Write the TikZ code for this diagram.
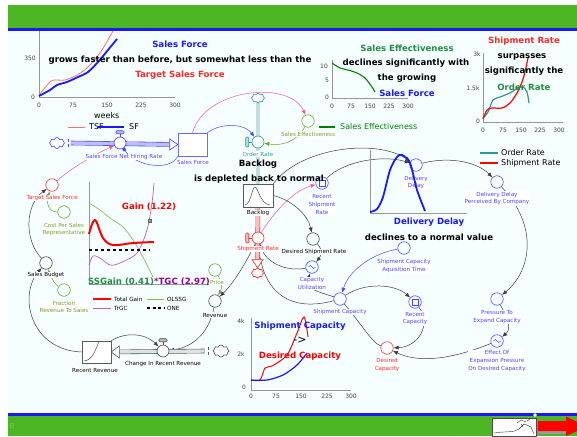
\documentclass[tikz,border=0pt]{standalone}
\usepackage{fontspec}
\setmainfont{DejaVu Sans}
\usetikzlibrary{arrows.meta,shapes.symbols}
\definecolor{bandgreen}{RGB}{76,182,36}
\definecolor{bandblue}{RGB}{24,24,250}
\definecolor{paper}{RGB}{245,255,255}
\definecolor{vblue}{RGB}{70,70,255}
\definecolor{tblue}{RGB}{25,25,255}
\definecolor{vteal}{RGB}{45,150,150}
\definecolor{vred}{RGB}{255,40,40}
\definecolor{vpink}{RGB}{255,80,160}
\definecolor{vgreen}{RGB}{105,160,40}
\definecolor{tgreen}{RGB}{35,140,65}
\definecolor{tpurple}{RGB}{150,0,150}
\definecolor{cpurple}{RGB}{190,90,205}
\definecolor{cgreen}{RGB}{135,190,80}
\definecolor{tsfred}{RGB}{255,110,110}
\definecolor{linkgray}{RGB}{60,60,60}
\definecolor{axisgray}{RGB}{150,150,150}
\definecolor{faint}{RGB}{120,190,95}
\pgfdeclarelayer{back}
\pgfsetlayers{back,main}
\newcommand{\lblsize}{\fontsize{5.6}{7.8}\selectfont}
\newcommand{\ttlsize}{\fontsize{8.6}{10}\selectfont\bfseries}
\newcommand{\ticksize}{\fontsize{6}{7}\selectfont}
\begin{document}
\begin{tikzpicture}[x=1pt,y=-1pt]
\tikzstyle{aux}=[circle,draw,fill=paper,minimum size=12.5pt,inner sep=0pt,line width=0.6pt]
\tikzstyle{lbl}=[font=\lblsize,align=center,fill=white,inner sep=0.5pt]
\tikzstyle{stock}=[rectangle,draw,fill=white,minimum width=29pt,minimum height=23pt,inner sep=0pt,line width=0.6pt]
\tikzstyle{valve}=[circle,draw,fill=white,minimum size=12pt,inner sep=0pt,line width=0.6pt]
\tikzstyle{puff}=[cloud,cloud puffs=8,cloud ignores aspect,draw,fill=white,minimum width=15pt,minimum height=11pt,inner sep=0pt,line width=0.6pt]
\tikzstyle{link}=[draw=linkgray,line width=0.5pt,-{Latex[length=5pt,width=4pt]}]
\tikzstyle{pipe}=[line width=0.6pt,double distance=3.4pt]
\tikzstyle{title}=[font=\ttlsize,inner sep=0pt]
\tikzstyle{tick}=[font=\ticksize,text=black!75,inner sep=0pt]
\tikzstyle{axis}=[draw=axisgray,line width=1pt]
\tikzstyle{legend}=[font=\fontsize{8}{9}\selectfont,anchor=west,inner sep=0pt]
\tikzstyle{glegend}=[font=\fontsize{5.7}{7}\selectfont,anchor=west,inner sep=0pt]
\useasboundingbox (0,0) rectangle (577,436);

% page
\begin{pgfonlayer}{back}
\fill[white] (0,0) rectangle (577,436);
\fill[paper] (8,31) rectangle (577,414);
\fill[bandgreen] (8,5) rectangle (577,28);
\fill[bandblue] (8,28) rectangle (577,31);
\fill[bandblue] (8,413) rectangle (577,416);
\fill[bandgreen] (8,416) rectangle (577,436);
\end{pgfonlayer}
\node[font=\fontsize{9}{9}\selectfont,text=faint] (pg) at (12,426) {e};
\filldraw[fill=white,draw=black!70,line width=0.5pt] (492,418) rectangle (536,436);
\draw[black!80,line width=0.4pt] (494,433) .. controls (505,431) and (514,433) .. (519,429) -- (524,424) -- (531,427) -- (534,434)
  (517,423) -- (521,420) -- (526,422) (521,424) -- (523,427) (527,421) -- (530,419);
\fill[black!40] (538,431) rectangle (566,433.5);
\fill[red] (538,421) -- (566,421) -- (566,416.5) -- (587,426.5) -- (566,436) -- (566,431) -- (538,431) -- cycle;
\filldraw[white] (535,415) circle (1.5);

% stocks
\node[stock,draw=vblue!80] (sf) at (192.5,144.5) {};
\node[stock,draw=black!65,minimum width=30pt] (bl) at (258,195.5) {};
\node[stock,draw=black!65,minimum height=22pt] (rr) at (96.5,352) {};
\draw[black!70,line width=0.5pt] (245,205) .. controls (251,204) and (252,187) .. (255,187) .. controls (258,187) and (260,204) .. (270,205);
\draw[black!70,line width=0.5pt] (84,361) .. controls (92,360) and (95,352) .. (99,341);

% clouds
\node[puff,draw=vblue] (c1) at (57,143) {};
\node[puff,draw=vteal,minimum width=13pt,minimum height=10pt] (c2) at (258,98) {};
\node[puff,draw=vred,minimum width=12pt,minimum height=10pt] (c3) at (257.5,273) {};
\node[puff,draw=black!70,minimum width=16pt,minimum height=12pt] (c4) at (221,351) {};

% valves
\node[valve,draw=vblue] (nhr) at (120,143) {};
\node[valve,draw=vteal] (ordr) at (258,142) {};
\node[valve,draw=vred] (shpr) at (258,238) {};
\node[valve,draw=black!70] (crr) at (163,351) {};
\draw[vblue,line width=0.6pt] (nhr.north) -- ++(0,-3);
\draw[vblue,fill=vblue!35,rounded corners=1pt,line width=0.6pt] ([shift={(-4,-3)}]nhr.north) rectangle ++(8,-3);
\draw[black!70,line width=0.6pt] (crr.north) -- ++(0,-3);
\draw[black!70,fill=black!25,rounded corners=1pt,line width=0.6pt] ([shift={(-4,-3)}]crr.north) rectangle ++(8,-3);
\draw[vteal,line width=0.6pt] (ordr.west) -- ++(-3,0);
\draw[vteal,fill=vteal!30,rounded corners=1pt,line width=0.6pt] ([shift={(-6,-5)}]ordr.west) rectangle ++(3,10);
\draw[vred,line width=0.6pt] (shpr.west) -- ++(-3,0);
\draw[vred,fill=vred!30,rounded corners=1pt,line width=0.6pt] ([shift={(-6,-5)}]shpr.west) rectangle ++(3,10);

% auxiliaries
\node[aux,draw=vgreen] (se) at (308,121) {};
\node[aux,draw=vblue] (rsr) at (322,183) {};
\node[aux,draw=vblue] (dd) at (416,165) {};
\node[aux,draw=vblue] (ddp) at (497,182) {};
\node[aux,draw=black!75] (dsr) at (313,239) {};
\node[aux,draw=vblue] (cu) at (312,267) {};
\node[aux,draw=vblue] (scat) at (404,248) {};
\node[aux,draw=vblue] (sc) at (340,299) {};
\node[aux,draw=vblue] (rc) at (415,302) {};
\node[aux,draw=vred] (dc) at (387,348) {};
\node[aux,draw=vblue] (pec) at (497,299) {};
\node[aux,draw=vblue] (eep) at (497,341) {};
\node[aux,draw=vred] (tsf) at (52,185) {};
\node[aux,draw=vgreen] (cpsr) at (64,212) {};
\node[aux,draw=black!75] (sb) at (46,263) {};
\node[aux,draw=vgreen] (frs) at (64,290) {};
\node[aux,draw=vgreen] (pr) at (215,270) {};
\node[aux,draw=black!75] (rev) at (215,301) {};
\draw[vblue,line width=0.5pt] ([shift={(-3,-3)}]rsr.center) rectangle ++(6,6);
\draw[vblue,line width=0.5pt] ([shift={(-3,-3)}]rc.center) rectangle ++(6,6);
\draw[vblue,line width=0.5pt] ([xshift=-3.5pt]cu.center) sin ++(1.75,-1.5) cos ++(1.75,1.5) sin ++(1.75,1.5) cos ++(1.75,-1.5);
\draw[vblue,line width=0.5pt] ([xshift=-3.5pt]eep.center) sin ++(1.75,-1.5) cos ++(1.75,1.5) sin ++(1.75,1.5) cos ++(1.75,-1.5);

% names
\node[lbl,text=vred] (tsfl) at (52,198) {Target Sales Force};
\node[lbl,text=vgreen] (cpsrl) at (64,229.5) {Cost Per Sales\\Representative};
\node[lbl] (sbl) at (46,275) {Sales Budget};
\node[lbl,text=vgreen] (frsl) at (64,307) {Fraction\\Revenue To Sales};
\node[lbl,text=vgreen] (prl) at (217,282) {Price};
\node[lbl] (revl) at (215,315) {Revenue};
\node[lbl] (rrl) at (95,370) {Recent Revenue};
\node[lbl] (crrl) at (163,364) {Change In Recent Revenue};
\node[lbl,text=vblue] (nhrl) at (124,157) {Sales Force Net Hiring Rate};
\node[lbl,text=vblue] (sfl) at (193,162) {Sales Force};
\node[lbl,text=vteal] (ordrl) at (258,154) {Order Rate};
\node[lbl,text=vgreen] (sel) at (308,134) {Sales Effectiveness};
\node[lbl] (bll) at (258,213) {Backlog};
\node[lbl,text=vred] (shprl) at (258,249) {Shipment Rate};
\node[lbl,text=vblue] (rsrl) at (322,204.5) {Recent\\Shipment\\Rate};
\node[lbl,text=vblue] (ddl) at (416,182.5) {Delivery\\Delay};
\node[lbl,text=vblue] (ddpl) at (497,198.5) {Delivery Delay\\Perceived By Company};
\node[lbl] (dsrl) at (314,252) {Desired Shipment Rate};
\node[lbl,text=vblue] (cul) at (312,283.5) {Capacity\\Utilization};
\node[lbl,text=vblue] (scatl) at (404,266) {Shipment Capacity\\Aquisition Time};
\node[lbl,text=vblue] (scl) at (340,312) {Shipment Capacity};
\node[lbl,text=vblue] (rcl) at (415,318.5) {Recent\\Capacity};
\node[lbl,text=vred] (dcl) at (387,365) {Desired\\Capacity};
\node[lbl,text=vblue] (pecl) at (497,317) {Pressure To\\Expand Capacity};
\node[lbl,text=vblue] (eepl) at (497,361) {Effect Of\\Expansion Pressure\\On Desired Capacity};

% influences and flows
\begin{pgfonlayer}{back}
\path[link,draw=vpink] (sf.north) .. controls (205,88) and (290,80) .. (se);
\path[link,draw=vblue] (sf.north east) .. controls (222,122) and (245,124) .. (ordr);
\path[link,draw=vgreen] (se) .. controls (296,143) and (280,146) .. (ordr);
\path[link,draw=vblue,-{Square[length=3pt,width=3pt]}] (sf.south west) .. controls (170,172) and (135,166) .. (nhr);
\path[link,draw=vpink] (tsf) .. controls (75,165) and (100,152) .. (nhr);
\path[link] (sb) .. controls (24,240) and (25,205) .. (tsf);
\path[link,draw=vgreen] (cpsr) .. controls (48,212) and (46,202) .. (tsf);
\path[link,draw=vgreen] (frs) .. controls (56,285) and (52,280) .. (sb);
\path[link] (rr.west) .. controls (30,350) and (18,295) .. (sb);
\path[link] (rr.north east) .. controls (125,332) and (145,333) .. (crr);
\path[link] (rev) .. controls (210,330) and (195,347) .. (crr);
\path[link,draw=vgreen] (pr) .. controls (221,281) and (223,287) .. (rev);
\path[link] (shpr) .. controls (245,265) and (232,285) .. (rev);
\path[link,draw=vpink] (shpr) .. controls (275,210) and (295,190) .. (rsr);
\path[link] (bl.east) .. controls (292,200) and (308,215) .. (dsr);
\path[link] (dsr) .. controls (323,250) and (321,256) .. (cu);
\path[link] (cu) .. controls (285,272) and (266,262) .. (shpr);
\path[link] (sc) .. controls (320,292) and (305,290) .. (cu);
\path[draw=linkgray,line width=0.5pt] (sc) .. controls (292,312) and (262,295) .. (shpr);
\path[link,draw=vblue] (scat) .. controls (375,253) and (350,268) .. (sc);
\path[link] (sc) .. controls (365,282) and (395,284) .. (rc);
\path[draw=linkgray,line width=0.5pt] (sc) .. controls (360,322) and (372,343) .. (dc);
\path[link] (rc) .. controls (432,325) and (418,347) .. (dc);
\path[link] (eep) .. controls (440,364) and (412,360) .. (dc);
\path[link] (pec) .. controls (513,327) and (508,332) .. (eep);
\path[link] (ddp) .. controls (540,228) and (530,272) .. (pec);
\path[link] (dd) .. controls (445,157) and (475,160) .. (ddp);
\path[link] (bl.north east) .. controls (300,148) and (375,138) .. (dd);
\path[link] (rsr) .. controls (345,160) and (385,155) .. (dd);
% pipes
\draw[pipe,draw=vblue,double=vblue!35,shorten >=8pt] ([xshift=6pt]c1.east) -- (sf.west);
\filldraw[draw=vblue,fill=white,line width=0.6pt] (sf.west) -- ++(-8,-5.5) -- ++(0,11) -- cycle;
\draw[vblue,densely dashed,line width=0.6pt] ([xshift=3pt]c1.east) ++(0,-4) -- ++(0,8);
\draw[pipe,draw=vteal,double=vteal!30] (c2) -- (bl);
\draw[pipe,draw=vred,double=vred!30,shorten >=8pt] (bl) -- (c3);
\filldraw[draw=vred,fill=white,line width=0.6pt] (c3.north) -- ++(-5.5,-8) -- ++(11,0) -- cycle;
\draw[pipe,draw=black!65,double=black!12,shorten >=8pt] ([xshift=-8pt]c4.west) -- (rr.east);
\filldraw[draw=black!65,fill=white,line width=0.6pt] (rr.east) -- ++(8,-6) -- ++(0,12) -- cycle;
\draw[black!65,densely dashed,line width=0.6pt] ([xshift=-4pt]c4.west) ++(0,-4) -- ++(0,8);
\end{pgfonlayer}

% sales force graph
\draw[axis] (39,31) -- (39,97.5) -- (175,97.5);
\node[tick] (y1a) at (30,58) {350};
\node[tick] (y1b) at (33,97) {0};
\foreach \x/\t in {39/0,73/75,107/150,141/225,175/300} \node[tick] at (\x,105) {\t};
\draw[tsfred,line width=0.8pt] plot[smooth] coordinates {(39,95) (50,82) (55,80) (65,80) (77,75) (88,67) (100,53) (113,31)};
\draw[tblue,line width=1.8pt] plot[smooth] coordinates {(39,96) (50,90) (57,85) (67,82) (78,77) (88,72) (98,62) (108,50) (117,39)};
\node[legend] (wk) at (94,116) {weeks};
\draw[tsfred,line width=0.8pt] (68,127) -- (85,127);
\node[legend] (lg1a) at (89,127) {TSF};
\draw[tblue,line width=1.8pt] (97,127) -- (124,127);
\node[legend] (lg1b) at (129,127) {SF};
\node[title,text=tblue] (t1a) at (180,44) {Sales Force};
\node[title] (t1b) at (180,60) {grows faster than before, but somewhat less than the};
\node[title,text=vred] (t1c) at (180,75) {Target Sales Force};

% sales effectiveness graph
\draw[axis] (332,60) -- (332,98.5) -- (408,98.5);
\node[tick] (y2a) at (324,66) {10};
\node[tick] (y2b) at (327,80) {5};
\node[tick] (y2c) at (327,97) {0};
\foreach \x/\t in {332/0,351/75,370/150,389/225,408/300} \node[tick] at (\x,106) {\t};
\draw[green!50!black,line width=1.1pt] plot[smooth] coordinates {(332,63) (340,68) (348,70) (357,73) (365,78) (372,87) (375,92)};
\draw[green!50!black,line width=1.1pt] (319,127) -- (335,127);
\node[legend,text=green!50!black] (lg2) at (340,127) {Sales Effectiveness};
\node[title,text=tgreen] (t2a) at (407,48) {Sales Effectiveness};
\node[title] (t2b) at (406,63) {declines significantly with};
\node[title] (t2c) at (407,78) {the growing};
\node[title,text=tblue] (t2d) at (407,93) {Sales Force};

% shipment and order rate graph
\draw[axis] (483,53) -- (483,122.5) -- (563,122.5);
\node[tick] (y3a) at (477,54) {3k};
\node[tick] (y3b) at (473,88) {1.5k};
\node[tick] (y3c) at (478,121) {0};
\foreach \x/\t in {483/0,503/75,521/150,540/225,559/300} \node[tick] at (\x,130) {\t};
\draw[vteal,line width=1.2pt] plot[smooth] coordinates {(483,118) (488,112) (493,100) (500,97) (510,93) (518,88) (523,87) (527,92) (529,103)};
\draw[red,line width=1.2pt] plot[smooth] coordinates {(483,119) (487,110) (492,108) (502,108) (510,103) (517,93) (522,82) (525,72) (528,58)};
\draw[vteal,line width=1.2pt] (480,153) -- (498,153);
\node[legend] (lg3a) at (501,153) {Order Rate};
\draw[red,line width=1.2pt] (480,163) -- (498,163);
\node[legend] (lg3b) at (501,163) {Shipment Rate};
\node[title,text=vred] (t3a) at (524,41) {Shipment Rate};
\node[title] (t3b) at (522,57) {surpasses};
\node[title] (t3c) at (524,71) {significantly the};
\node[title,text=tgreen] (t3d) at (524,87) {Order Rate};

% backlog text
\node[title] (t4a) at (258,164) {Backlog};
\node[title] (t4b) at (259,179) {is depleted back to normal};

% delivery delay graph
\draw[axis] (370,150) -- (370,213.5) -- (467,213.5);
\draw[tblue,line width=1.8pt] plot[smooth] coordinates {(370,212) (377,209) (383,197) (390,170) (397,157) (402,155) (410,163) (417,190) (425,211)};
\node[title,text=tblue] (t5a) at (429,222) {Delivery Delay};
\node[title] (t5b) at (429,237) {declines to a normal value};

% gain graph
\draw[axis] (89,182) -- (89,284) -- (209,284);
\draw[cgreen,line width=0.7pt] plot[smooth] coordinates {(89,203) (100,210) (110,218) (123,227) (133,240) (143,257) (153,277)};
\draw[cpurple,line width=0.7pt] plot[smooth] coordinates {(89,265) (93,256) (100,258) (110,265) (120,263) (137,253) (147,230) (152,203) (154,183)};
\draw[black,line width=1.5pt,dash pattern=on 3pt off 3pt] (89,250) -- (150,250);
\draw[red,line width=2pt] plot[smooth,tension=0.6] coordinates {(89,234) (95,220) (103,238) (113,245) (133,243) (154,242)};
\filldraw[fill=black!40,draw=black!60,line width=0.4pt] (148,219) rectangle (151,222);
\node[title,text=red] (t6a) at (149,207) {Gain (1.22)};
\node[title] (t6b) at (149,282) {\textcolor{tgreen}{SSGain (0.41)}\textcolor{tpurple}{*TGC (2.97)}};
\draw[red,line width=2pt] (93,299) -- (111,299);
\node[glegend] (lg6a) at (114,299) {Total Gain};
\draw[cgreen,line width=0.7pt] (147,299) -- (164,299);
\node[glegend] (lg6b) at (167,299) {OLSSG};
\draw[cpurple,line width=0.7pt] (93,308) -- (111,308);
\node[glegend] (lg6c) at (114,308) {TrGC};
\draw[black,line width=1.5pt,dash pattern=on 3pt off 2.5pt] (147,308) -- (164,308);
\node[glegend] (lg6d) at (167,308) {ONE};

% capacity graph
\draw[axis] (251,318) -- (251,390) -- (351,390);
\node[tick] (y7a) at (241,321) {4k};
\node[tick] (y7b) at (241,354) {2k};
\node[tick] (y7c) at (244,387) {0};
\foreach \x/\t in {251/0,276/75,301/150,327/225,351/300} \node[tick] at (\x,396) {\t};
\draw[red,line width=1pt] plot[smooth,tension=0.5] coordinates {(251,380) (260,380) (265,368) (272,366) (287,355) (297,333) (304,317) (308,337)};
\draw[tblue,line width=1.2pt] plot[smooth] coordinates {(251,380) (267,380) (283,375) (297,365) (307,353)};
\node[title,text=tblue] (t7a) at (300,326) {Shipment Capacity};
\node[font=\fontsize{11}{11}\selectfont,inner sep=0pt] (t7b) at (300,340) {->};
\node[title,text=red] (t7c) at (300,356) {Desired Capacity};
\end{tikzpicture}
\end{document}
